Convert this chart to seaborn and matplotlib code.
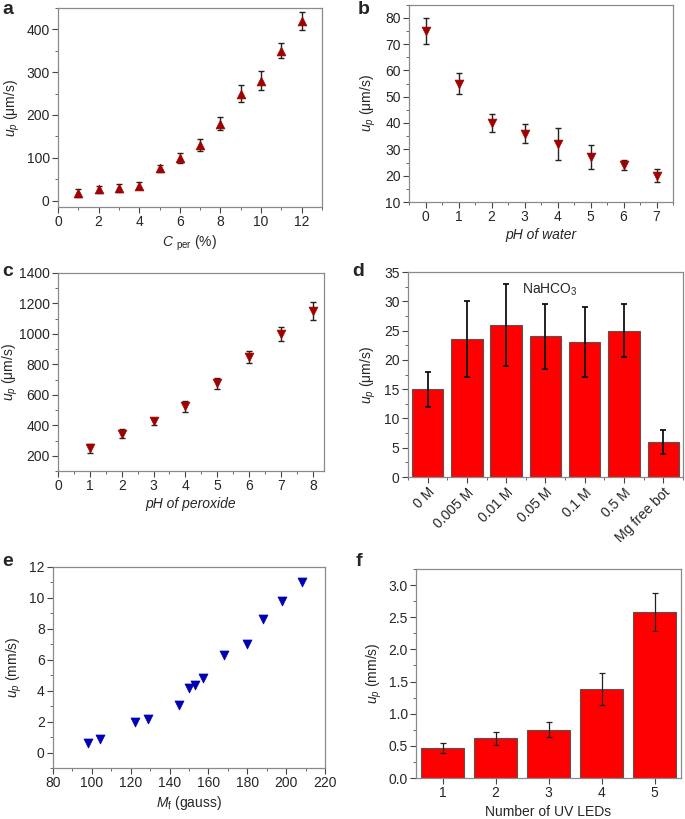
import numpy as np
import pandas as pd
import matplotlib
matplotlib.use("Agg")
import matplotlib.pyplot as plt
from matplotlib.ticker import MultipleLocator
import seaborn as sns

# ---------------- data ----------------
a_x = [1, 2, 3, 4, 5, 6, 7, 8, 9, 10, 11, 12]
a_y = [18, 26, 29, 35, 75, 100, 130, 180, 250, 280, 350, 420]
a_err = [9, 9, 9, 8, 9, 12, 13, 16, 20, 22, 18, 21]

b_x = [0, 1, 2, 3, 4, 5, 6, 7]
b_y = [75, 55, 40, 36, 32, 27, 24, 20]
b_err = [5, 4, 3.5, 3.5, 6, 4.5, 2, 2.5]

c_x = [1, 2, 3, 4, 5, 6, 7, 8]
c_y = [250, 345, 425, 525, 675, 850, 1000, 1150]
c_err = [30, 30, 25, 35, 35, 40, 45, 60]

d_cat = ["0 M", "0.005 M", "0.01 M", "0.05 M", "0.1 M", "0.5 M", "Mg free bot"]
d_y = [15, 23.5, 26, 24, 23, 25, 6]
d_err = [3, 6.5, 7, 5.5, 6, 4.5, 2]

e_x = [98, 104, 122, 129, 145, 150, 153, 157, 168, 180, 188, 198, 208]
e_y = [0.6, 0.85, 2.0, 2.2, 3.1, 4.2, 4.4, 4.85, 6.3, 7.0, 8.65, 9.8, 11.0]

f_cat = ["1", "2", "3", "4", "5"]
f_y = [0.47, 0.62, 0.75, 1.38, 2.58]
f_err = [0.08, 0.10, 0.12, 0.25, 0.30]

# ---------------- style ----------------
sns.set_theme(style="ticks")
plt.rcParams['font.family'] = ['Liberation Sans', 'DejaVu Sans']
plt.rcParams['mathtext.fontset'] = 'custom'
plt.rcParams['mathtext.rm'] = 'Liberation Sans'
plt.rcParams['mathtext.it'] = 'Liberation Sans:italic'
plt.rcParams['mathtext.bf'] = 'Liberation Sans:bold'

FS = 10
W, H = 685, 819
fig = plt.figure(figsize=(W / 100, H / 100), dpi=100)

def axes_px(l, r, t, b):
    return fig.add_axes([l / W, 1 - b / H, (r - l) / W, (b - t) / H])

SPINE = "#8a8a8a"
MRED = "#a00000"
MBLUE = "#0000b0"

def style(ax, xminor=None, yminor=None):
    for s in ax.spines.values():
        s.set_color(SPINE)
        s.set_linewidth(0.9)
    ax.tick_params(which="major", direction="out", length=4, width=0.8,
                   color="#444444", labelsize=FS, pad=2, top=False, right=False)
    ax.tick_params(which="minor", direction="out", length=2.2, width=0.7,
                   color="#666666", top=False, right=False)
    if xminor:
        ax.xaxis.set_minor_locator(MultipleLocator(xminor))
    if yminor:
        ax.yaxis.set_minor_locator(MultipleLocator(yminor))

def panel_label(x, y, t):
    fig.text(x / W, 1 - y / H, t, fontsize=14, fontweight="bold", ha="left", va="center")

def scatter_err(ax, x, y, err, marker, color):
    ax.errorbar(x, y, yerr=err, fmt="none", ecolor="#222222", elinewidth=1,
                capsize=2, capthick=1, zorder=2)
    sns.scatterplot(x=x, y=y, ax=ax, marker=marker, color=color, s=40,
                    edgecolor=color, linewidth=0.5, zorder=3, legend=False)

def ylabel_at(ax, text, right_px, left_axes_px, width_px):
    ax.set_ylabel(text, fontsize=FS)
    ax.yaxis.set_label_coords((right_px - left_axes_px) / width_px, 0.5)

YL = r"$u_p$ (μm/s)"

# ---- a ----
ax = axes_px(58, 322, 8, 207)
scatter_err(ax, a_x, a_y, a_err, "^", MRED)
ax.set_xlim(0, 13)
ax.set_ylim(-15, 450)
ax.xaxis.set_major_locator(MultipleLocator(2))
ax.yaxis.set_major_locator(MultipleLocator(100))
style(ax, 1, 50)
ax.set_xlabel(r"$C$ $_{\rm per}$ (%)", fontsize=FS, labelpad=3)
ylabel_at(ax, YL, 22, 58, 264)
panel_label(2, 9, "a")

# ---- b ----
ax = axes_px(409, 673, 4.5, 202)
scatter_err(ax, b_x, b_y, b_err, "v", MRED)
ax.set_xlim(-0.5, 7.5)
ax.set_ylim(10, 85)
ax.xaxis.set_major_locator(MultipleLocator(1))
ax.yaxis.set_major_locator(MultipleLocator(10))
style(ax, 0.5, 5)
ax.set_xlabel("pH of water", fontsize=FS, style="italic", labelpad=3)
ylabel_at(ax, YL, 378, 409, 264)
panel_label(358, 9, "b")

# ---- c ----
ax = axes_px(58, 324, 273, 471)
scatter_err(ax, c_x, c_y, c_err, "v", MRED)
ax.set_xlim(0, 8.35)
ax.set_ylim(100, 1400)
ax.xaxis.set_major_locator(MultipleLocator(1))
ax.yaxis.set_major_locator(MultipleLocator(200))
style(ax, 0.5, 100)
ax.set_xlabel("pH of peroxide", fontsize=FS, style="italic", labelpad=3)
ylabel_at(ax, YL, 20, 58, 266)
panel_label(2, 272, "c")

# ---- d ----
ax = axes_px(408, 683, 272, 477)
dfd = pd.DataFrame({"cat": d_cat, "val": d_y})
sns.barplot(data=dfd, x="cat", y="val", ax=ax, color="#ff0000", saturation=1,
            width=0.8, edgecolor="#555555", linewidth=0.8, errorbar=None)
ax.errorbar(range(len(d_cat)), d_y, yerr=d_err, fmt="none", ecolor="#111111",
            elinewidth=1.3, capsize=2.5, capthick=1.3, zorder=3)
ax.set_xlim(-0.5, 6.5)
ax.set_ylim(0, 35)
ax.yaxis.set_major_locator(MultipleLocator(5))
style(ax, None, 2.5)
ax.set_xticks(range(len(d_cat)))
ax.set_xticks(np.arange(-0.5, 6.6, 1.0), minor=True)
ax.set_xticklabels(d_cat, rotation=45, ha="right", rotation_mode="anchor")
ax.set_xlabel("")
ylabel_at(ax, YL, 378, 408, 275)
ax.text(3.1, 32, r"NaHCO$_3$", fontsize=FS, ha="center", va="center")
panel_label(352, 272, "d")

# ---- e ----
ax = axes_px(53, 325, 567, 768)
sns.scatterplot(x=e_x, y=e_y, ax=ax, marker="v", color=MBLUE, s=42,
                edgecolor=MBLUE, linewidth=0.5, legend=False)
ax.set_xlim(80, 220)
ax.set_ylim(-1, 12)
ax.xaxis.set_major_locator(MultipleLocator(20))
ax.yaxis.set_major_locator(MultipleLocator(2))
style(ax, 10, 1)
ax.set_xlabel(r"$M_{\rm f}$ (gauss)", fontsize=FS, labelpad=3)
ylabel_at(ax, r"$u_p$ (mm/s)", 24, 53, 272)
panel_label(2, 562, "e")

# ---- f ----
ax = axes_px(416, 681, 569, 778)
dff = pd.DataFrame({"cat": f_cat, "val": f_y})
sns.barplot(data=dff, x="cat", y="val", ax=ax, color="#ff0000", saturation=1,
            width=0.8, edgecolor="#555555", linewidth=0.8, errorbar=None)
ax.errorbar(range(len(f_cat)), f_y, yerr=f_err, fmt="none", ecolor="#222222",
            elinewidth=0.9, capsize=2.5, capthick=0.9, zorder=3)
ax.set_xlim(-0.5, 4.5)
ax.set_ylim(0, 3.25)
ax.yaxis.set_major_locator(MultipleLocator(0.5))
ax.yaxis.set_major_formatter(matplotlib.ticker.FormatStrFormatter("%.1f"))
style(ax, None, 0.25)
ax.set_xlabel("Number of UV LEDs", fontsize=FS, labelpad=3)
ylabel_at(ax, r"$u_p$ (mm/s)", 384, 416, 265)
panel_label(356, 562, "f")

fig.savefig("out.png", dpi=100)
